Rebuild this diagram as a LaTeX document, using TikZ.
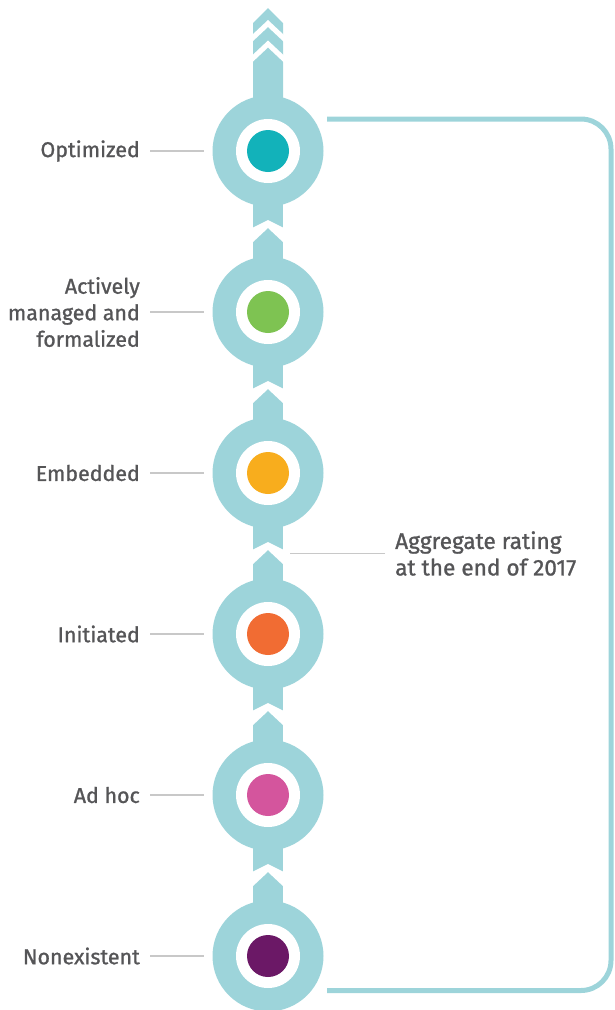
\documentclass[tikz,border=0pt]{standalone}
\usepackage{fontspec}
\setmainfont{Fira Sans}[UprightFeatures={FakeBold=1.1}]
\definecolor{ring}{HTML}{9DD4DA}
\definecolor{txt}{HTML}{555557}
\definecolor{lead}{HTML}{C8C8C8}
\definecolor{cA}{HTML}{12B2BA}
\definecolor{cB}{HTML}{7EC352}
\definecolor{cC}{HTML}{F8AD1D}
\definecolor{cD}{HTML}{F16C33}
\definecolor{cE}{HTML}{D4559D}
\definecolor{cF}{HTML}{6B1866}
\tikzset{
  outer/.style={circle, fill=ring, minimum size=111pt, inner sep=0pt},
  ringw/.style={circle, fill=white, minimum size=64pt, inner sep=0pt},
  core/.style={circle, fill=#1, minimum size=42pt, inner sep=0pt},
  lbl/.style={anchor=east, align=right, inner sep=0pt, text=txt,
    font=\fontsize{21.4}{26.5}\selectfont},
  leader/.style={draw=lead, line width=1.2pt},
  bracketline/.style={draw=ring, line width=5pt, rounded corners=30pt},
}
\begin{document}
\begin{tikzpicture}[x=1pt,y=-1pt]
\useasboundingbox (0,0) rectangle (614,1010);
% top arrow shaft
\fill[ring] (253,100) -- (253,23) -- (268,8) -- (283,23) -- (283,100) -- cycle;
% stems between circles
\fill[ring] (253,151) rectangle (283,956);
% white chevron gaps (top arrow)
\foreach \a in {23.5,44} {
  \fill[white] (252,\a+11.5) -- (268,\a-3.5) -- (284,\a+11.5) -- (284,\a+18.5) -- (268,\a+3.5) -- (252,\a+18.5) -- cycle;
}
% white chevron gaps between circles
\foreach \m in {231.5,392.5,553.5,714.5,875.5} {
  \fill[white] (252,\m-3.5) -- (268,\m-11.5) -- (284,\m-3.5) -- (284,\m+11.5) -- (268,\m-3.5) -- (252,\m+11.5) -- cycle;
}
% circles
\foreach \n/\y/\c in {1/151/cA,2/312/cB,3/473/cC,4/634/cD,5/795/cE,6/956/cF} {
  \node[outer] (c\n) at (268,\y) {};
  \node[ringw] (w\n) at (268,\y) {};
  \node[core=\c] (d\n) at (268,\y) {};
}
% labels
\node[lbl] (l1) at (140,151) {Optimized};
\node[lbl] (l2) at (140,312) {Actively\\managed and\\formalized};
\node[lbl] (l3) at (140,473) {Embedded};
\node[lbl] (l4) at (140,634) {Initiated};
\node[lbl] (l5) at (140,795) {Ad hoc};
\node[lbl] (l6) at (140,956) {Nonexistent};
\foreach \n in {1,...,6} {
  \draw[leader, shorten <=10pt, shorten >=8pt] (l\n.east) -- (c\n.west);
}
% aggregate rating
\node[anchor=west, align=left, inner sep=0pt, text=txt,
  font=\fontsize{22.6}{26.5}\selectfont] (agg) at (395,553.5) {Aggregate rating\\at the end of 2017};
\coordinate (aggp) at (290,553.5);
\draw[leader, shorten <=10pt] (agg.west) -- (aggp);
% bracket
\coordinate (bt) at (327,119);
\coordinate (bb) at (327,990.5);
\draw[bracketline] (bt) -- (611,119) -- (611,990.5) -- (bb);
\end{tikzpicture}
\end{document}
